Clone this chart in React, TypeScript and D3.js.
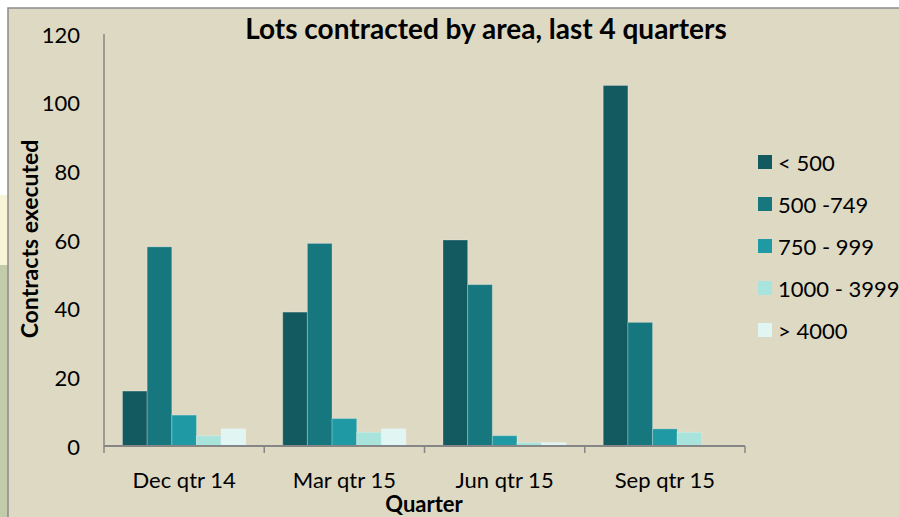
import React from "react";
import * as d3 from "d3";

// quarters on the x axis
const quarters = ["Dec qtr 14", "Mar qtr 15", "Jun qtr 15", "Sep qtr 15"];
// lot size groups (series)
const areaGroups = ["< 500", "500 -749", "750 - 999", "1000 - 3999", "> 4000"];
// contracts executed, one array per area group, in quarter order
const under500 = [16, 39, 60, 105];
const from500to749 = [58, 59, 47, 36];
const from750to999 = [9, 8, 3, 5];
const from1000to3999 = [3, 4, 1, 4];
const over4000 = [5, 5, 1, 0];
const yTicks = [0, 20, 40, 60, 80, 100, 120];

const seriesValues = [under500, from500to749, from750to999, from1000to3999, over4000];
const colors = ["#135a60", "#17777f", "#1f9aa5", "#a8e3dc", "#e1f5f3"];

const W = 899;
const H = 517;
const FONT = "Lato, 'Open Sans', sans-serif";

export default function App() {
  const x0 = d3.scaleBand().domain(quarters).range([104, 745]).padding(0);
  const x1 = d3
    .scaleBand()
    .domain(areaGroups)
    .range([0, x0.bandwidth()])
    .paddingInner(0)
    .paddingOuter(0.75);
  const y = d3.scaleLinear().domain([0, 120]).range([446, 34]);

  const boundaries = quarters.map((q) => x0(q)!).concat([x0.range()[1]]);

  return (
    <svg
      width={W}
      height={H}
      style={{ position: "absolute", left: 0, top: 0, fontFamily: FONT }}
    >
      {/* slide backdrop peeking out on the left / top */}
      <rect x={0} y={0} width={W} height={H} fill="#ffffff" />
      <rect x={0} y={195} width={9} height={70} fill="#f7f4d8" />
      <rect x={0} y={265} width={9} height={252} fill="#c3ccaa" />
      {/* chart area */}
      <rect x={8} y={8} width={W} height={H} fill="#ddd9c3" stroke="#8a8a8a" strokeWidth={1.5} />

      <text x={486} y={39} textAnchor="middle" fontSize={28} fontWeight="bold" fill="#000">
        Lots contracted by area, last 4 quarters
      </text>

      {/* y ticks */}
      {yTicks.map((t) => (
        <text key={t} x={80} y={y(t)} textAnchor="end" dominantBaseline="central" fontSize={22} fill="#000">
          {t}
        </text>
      ))}
      <text
        transform={`translate(29,239) rotate(-90)`}
        textAnchor="middle"
        dominantBaseline="central"
        fontSize={23}
        fontWeight="bold"
        fill="#000"
      >
        Contracts executed
      </text>

      {/* bars */}
      {quarters.map((q, qi) => (
        <g key={q} transform={`translate(${x0(q)},0)`}>
          {areaGroups.map((g, gi) => {
            const v = seriesValues[gi][qi];
            if (v <= 0) return null;
            return (
              <rect
                key={g}
                x={x1(g)}
                y={y(v)}
                width={x1.bandwidth()}
                height={y(0) - y(v)}
                fill={colors[gi]}
                stroke="#ffffff"
                strokeOpacity={0.25}
                strokeWidth={1}
              />
            );
          })}
        </g>
      ))}

      {/* axes */}
      <line x1={104} x2={104} y1={y(120)} y2={y(0)} stroke="#868686" strokeWidth={1.5} />
      <line x1={104} x2={745} y1={y(0)} y2={y(0)} stroke="#868686" strokeWidth={2} />
      {boundaries.map((b, i) => (
        <line key={i} x1={b} x2={b} y1={y(0)} y2={y(0) + 7} stroke="#868686" strokeWidth={1.5} />
      ))}
      {quarters.map((q) => (
        <text
          key={q}
          x={x0(q)! + x0.bandwidth() / 2}
          y={479}
          textAnchor="middle"
          dominantBaseline="central"
          fontSize={22}
          fill="#000"
        >
          {q}
        </text>
      ))}
      <text x={424} y={503} textAnchor="middle" dominantBaseline="central" fontSize={22} fontWeight="bold" fill="#000">
        Quarter
      </text>

      {/* legend */}
      {areaGroups.map((g, i) => (
        <g key={g} transform={`translate(758,${162 + i * 42})`}>
          <rect x={0} y={-7} width={14} height={14} fill={colors[i]} />
          <text x={20} y={0} dominantBaseline="central" fontSize={22} fill="#000">
            {g}
          </text>
        </g>
      ))}
    </svg>
  );
}
